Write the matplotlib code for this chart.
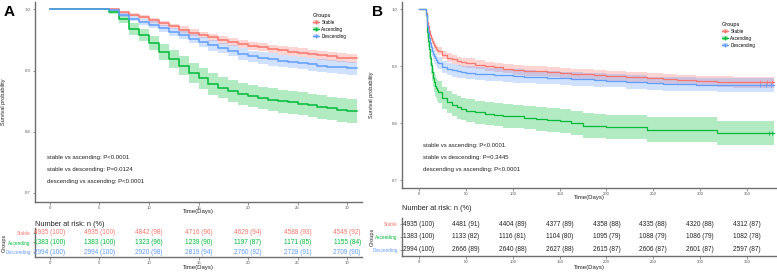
import numpy as np
import matplotlib
matplotlib.use("Agg")
import matplotlib.pyplot as plt
from matplotlib.lines import Line2D
from matplotlib.patches import Patch

plt.rcParams['font.family'] = ['Liberation Sans', 'DejaVu Sans']

groups = ['Stable', 'Ascending', 'Descending']
colors = ['#F8766D', '#00BA38', '#619CFF']

# panel A: 30-day survival (daily steps)
days_a = [0, 6, 7, 8, 9, 10, 11, 12, 13, 14, 15, 16, 17, 18, 19, 20,
          21, 22, 23, 24, 25, 26, 27, 28, 29, 30, 31]
stable_a = [1.0, 1.0, 0.995, 0.991, 0.987, 0.982, 0.977, 0.972, 0.967, 0.962, 0.958, 0.954, 0.950, 0.947,
            0.943, 0.940, 0.938, 0.935, 0.933, 0.931, 0.929, 0.927, 0.925, 0.923, 0.921, 0.920, 0.920]
ascending_a = [1.0, 0.996, 0.984, 0.968, 0.958, 0.945, 0.930, 0.919, 0.908, 0.896, 0.887, 0.878, 0.872, 0.866,
               0.862, 0.858, 0.855, 0.852, 0.850, 0.848, 0.846, 0.843, 0.840, 0.838, 0.836, 0.834, 0.834]
descending_a = [1.0, 0.999, 0.991, 0.985, 0.980, 0.975, 0.969, 0.963, 0.958, 0.952, 0.946, 0.941, 0.937, 0.932,
                0.927, 0.923, 0.920, 0.918, 0.916, 0.914, 0.912, 0.910, 0.908, 0.906, 0.905, 0.904, 0.904]

# panel B: 1-year survival
days_b = [0, 6, 7, 8, 9, 10, 11, 12, 13, 14, 15, 16, 17, 18, 19, 20,
          25, 30, 35, 40, 45, 50, 60, 70, 80, 90, 100, 112, 125, 137, 150, 162, 175, 187, 200,
          221, 243, 260, 275, 296, 318, 335, 350, 379]
stable_b = [1.0, 1.0, 0.993, 0.985, 0.977, 0.970, 0.962, 0.955, 0.950, 0.945, 0.941, 0.937, 0.934, 0.931,
            0.929, 0.927,
            0.920, 0.915, 0.912, 0.909, 0.907, 0.906, 0.903, 0.900, 0.898, 0.896, 0.894, 0.892, 0.891,
            0.890, 0.889, 0.887, 0.886, 0.884, 0.883,
            0.881, 0.879, 0.877, 0.876, 0.874, 0.873, 0.872, 0.872, 0.872]
ascending_b = [1.0, 1.0, 0.990, 0.975, 0.960, 0.945, 0.930, 0.915, 0.902, 0.890, 0.880, 0.872, 0.866, 0.862,
               0.858, 0.855,
               0.845, 0.837, 0.832, 0.828, 0.825, 0.822, 0.819, 0.817, 0.815, 0.813, 0.812, 0.810, 0.808,
               0.806, 0.804, 0.800, 0.796, 0.795, 0.794,
               0.794, 0.789, 0.789, 0.789, 0.789, 0.783, 0.783, 0.783, 0.783]
descending_b = [1.0, 1.0, 0.990, 0.980, 0.970, 0.960, 0.950, 0.940, 0.933, 0.927, 0.922, 0.918, 0.914, 0.911,
                0.908, 0.906,
                0.899, 0.895, 0.893, 0.891, 0.890, 0.889, 0.887, 0.886, 0.885, 0.884, 0.883, 0.882, 0.881,
                0.880, 0.879, 0.878, 0.877, 0.876, 0.875,
                0.872, 0.870, 0.869, 0.869, 0.868, 0.867, 0.867, 0.867, 0.867]
censor_b = [[364, 371, 377], [373, 377], [364, 370, 376]]

# number at risk tables
risk_times_a = [0, 5, 10, 15, 20, 25, 30]
risk_a = [[4935, 4935, 4842, 4716, 4629, 4588, 4549],
          [1383, 1383, 1323, 1239, 1197, 1171, 1155],
          [2994, 2994, 2920, 2819, 2760, 2728, 2709]]
risk_times_b = [0, 50, 100, 150, 200, 250, 300, 350]
risk_b = [[4935, 4481, 4404, 4377, 4358, 4335, 4320, 4312],
          [1383, 1133, 1116, 1104, 1095, 1088, 1086, 1082],
          [2994, 2666, 2640, 2627, 2615, 2606, 2601, 2597]]

pvals_a = ['stable vs ascending: P<0.0001', 'stable vs descending: P=0.0124',
           'descending vs ascending: P<0.0001']
pvals_b = ['stable vs ascending: P<0.0001', 'stable vs descending: P=0.3445',
           'descending vs ascending: P<0.0001']

W, H = 777, 272
AXC = '#6e6e6e'
TXC = '#555555'


def fx(px):
    return px / W


def fy(px):
    return 1 - px / H


def style_axis(ax):
    for s in ['top', 'right']:
        ax.spines[s].set_visible(False)
    for s in ['left', 'bottom']:
        ax.spines[s].set_color(AXC)
        ax.spines[s].set_linewidth(1.0)
    ax.tick_params(length=1.8, width=0.5, color=AXC, labelsize=3.1, labelcolor=TXC, pad=1.2)


def draw_curves(ax, days, curves, lw):
    for surv, n0, c in zip(curves, [r[0] for r in risk_a], colors):
        s = np.array(surv)
        half = 1.96 * np.sqrt(s * (1 - s) / n0)
        ax.fill_between(days, s - half, np.minimum(s + half, 1.0), step='post',
                        color=c, alpha=0.3, lw=0)
        ax.step(days, s, where='post', color=c, lw=lw)


def draw_table(ax, times, rows, xlim, ticks, colored):
    ax.set_xlim(xlim)
    ax.set_ylim(0.5, 3.5)
    style_axis(ax)
    for i, row in enumerate(rows):
        for t, n in zip(times, row):
            ax.text(t, 3 - i, '%d (%d)' % (n, round(100 * n / row[0])), ha='center', va='center',
                    fontsize=4.7, color=colors[i] if colored else '#222222')
    ax.set_yticks([3, 2, 1])
    ax.set_yticklabels(groups, fontsize=3.4)
    for lab, c in zip(ax.get_yticklabels(), colors):
        lab.set_color(c)
    ax.set_xticks(ticks)


fig = plt.figure(figsize=(W / 100, H / 100), dpi=100)

# ---- panel A ----
axA = fig.add_axes([fx(35), fy(202), fx(327), 200 / H])
draw_curves(axA, days_a, [stable_a, ascending_a, descending_a], 1.1)
axA.set_xlim(-1.5, 31.5)
axA.set_ylim(0.685, 1.012)
axA.set_xticks(risk_times_a)
axA.set_yticks([0.7, 0.8, 0.9, 1.0])
style_axis(axA)
for k, t in enumerate(pvals_a):
    fig.text(fx(47), fy(157 + 12.5 * k), t, fontsize=4.3, va='center', color='#222222')

tabA = fig.add_axes([fx(35), fy(257), fx(327), 29 / H])
draw_table(tabA, risk_times_a, risk_a, (-1.5, 31.5), risk_times_a, True)

# ---- panel B ----
axB = fig.add_axes([fx(402), fy(188), fx(375), 186 / H])
draw_curves(axB, days_b, [stable_b, ascending_b, descending_b], 0.9)
for cens, surv, c in zip(censor_b, [stable_b, ascending_b, descending_b], colors):
    axB.plot(cens, [surv[-1]] * len(cens), '+', color=c, ms=3.5, mew=0.6)
axB.set_xlim(-18.2, 382)
axB.set_ylim(0.6865, 1.0128)
axB.set_xticks(risk_times_b)
axB.set_yticks([0.7, 0.8, 0.9, 1.0])
style_axis(axB)
for k, t in enumerate(pvals_b):
    fig.text(fx(423), fy(146 + 11.5 * k), t, fontsize=4.3, va='center', color='#222222')

tabB = fig.add_axes([fx(402), fy(256), fx(375), 38 / H])
draw_table(tabB, risk_times_b, risk_b, (-18.2, 382), risk_times_b, False)

# ---- labels ----
for x0, x1, ybot, ytab, ytitle, xl, ylab, ygrp, letter, lx in [
        (35, 362, 212, 268, 224, 4, 102, 243, 'A', 4),
        (402, 777, 198, 268, 209, 372, 95, 237, 'B', 372)]:
    xm = fx((x0 + x1) / 2)
    fig.text(xm, fy(ybot), 'Time(Days)', fontsize=4.3, ha='center', va='center', color='#222222')
    fig.text(xm, fy(ytab), 'Time(Days)', fontsize=4.3, ha='center', va='center', color='#222222')
    fig.text(fx(x0), fy(ytitle), 'Number at risk: n (%)', fontsize=5.3, va='center', color='#222222')
    fig.text(fx(xl), fy(ylab), 'Survival probability', fontsize=4, rotation=90,
             ha='center', va='center', color='#222222')
    fig.text(fx(xl), fy(ygrp), 'Groups', fontsize=4, rotation=90, ha='center', va='center',
             color='#222222')
    fig.text(fx(lx), fy(12.5), letter, fontsize=11, fontweight='bold', va='center')

handles = [(Patch(facecolor=c, alpha=0.3, lw=0), Line2D([], [], color=c, marker='+', ms=3.5, lw=0.9))
           for c in colors]
for x, y in [(310, 10), (719, 19)]:
    leg = fig.legend(handles, groups, loc='upper left', bbox_to_anchor=(fx(x), fy(y)),
                     frameon=False, title='Groups', fontsize=3.3, title_fontsize=4,
                     handlelength=1.3, handleheight=1.0, handletextpad=0.6, labelspacing=0.45,
                     alignment='left', borderpad=0.1)

fig.savefig('out.png', dpi=100)
